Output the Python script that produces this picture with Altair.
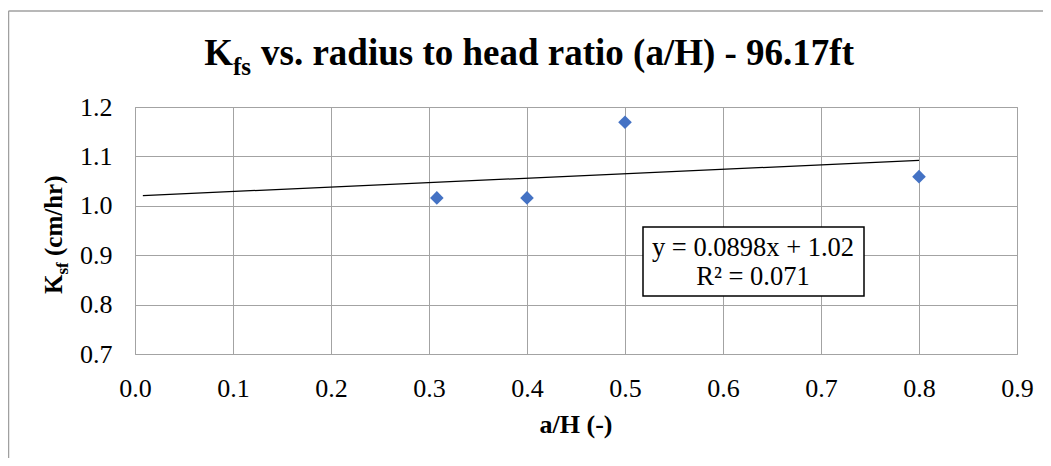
import altair as alt
import pandas as pd

# ---- data ----
a_over_h = [0.308, 0.4, 0.5, 0.8]
k_sf = [1.016, 1.016, 1.169, 1.059]

trend_slope = 0.0898
trend_intercept = 1.02
trend_x = [0.008, 0.8]          # Excel trendline extent (backward forecast 0.3)

x_ticks = [0.0, 0.1, 0.2, 0.3, 0.4, 0.5, 0.6, 0.7, 0.8, 0.9]
y_ticks = [0.7, 0.8, 0.9, 1.0, 1.1, 1.2]

title_k = "K"
title_sub = "fs"
title_rest = "vs. radius to head ratio (a/H) - 96.17ft"
ytitle_k = "K"
ytitle_sub = "sf"
ytitle_rest = "(cm/hr)"
xtitle = "a/H (-)"
eq_line1 = "y = 0.0898x + 1.02"
eq_line2 = "R² = 0.071"

# ---- tables ----
pts = pd.DataFrame({"x": a_over_h, "y": k_sf})
trend = pd.DataFrame({"x": trend_x,
                      "y": [trend_slope * v + trend_intercept for v in trend_x]})
one = pd.DataFrame({"k": [0]})

SERIF = "Liberation Serif"
GRID = "#a3a3a3"
LBL = 26

xscale = alt.Scale(domain=[0.0, 0.9], nice=False, zero=False)
yscale = alt.Scale(domain=[0.7, 1.2], nice=False, zero=False)

xaxis = alt.Axis(values=x_ticks, format=".1f", grid=True, gridColor=GRID, gridWidth=1,
                 ticks=False, domain=False, labelFont=SERIF, labelFontSize=LBL,
                 labelColor="#000000", labelPadding=21, title=None, labelFlush=False)
yaxis = alt.Axis(values=y_ticks, format=".1f", grid=True, gridColor=GRID, gridWidth=1,
                 ticks=False, domain=False, labelFont=SERIF, labelFontSize=LBL,
                 labelColor="#000000", labelPadding=23, title=None, labelFlush=False)

points = alt.Chart(pts).mark_point(shape="diamond", filled=True, color="#4472C4",
                                   size=185, opacity=1).encode(
    x=alt.X("x:Q", scale=xscale, axis=xaxis),
    y=alt.Y("y:Q", scale=yscale, axis=yaxis),
)

trend_line = alt.Chart(trend).mark_line(color="#000000", strokeWidth=1.3).encode(
    x=alt.X("x:Q", scale=xscale),
    y=alt.Y("y:Q", scale=yscale),
)

base = alt.Chart(one)

# outer chart border (left and top visible)
border_left = base.mark_rule(color="#a0a0a0", strokeWidth=1.5).encode(
    x=alt.value(-126.5), y=alt.value(-96), y2=alt.value(351))
border_top = base.mark_rule(color="#a0a0a0", strokeWidth=1.5).encode(
    x=alt.value(-126.5), x2=alt.value(908), y=alt.value(-96))

# title with subscript
t_k = base.mark_text(text=title_k, font=SERIF, fontSize=37, fontWeight="bold",
                     align="right", baseline="alphabetic", color="#000000").encode(
    x=alt.value(98), y=alt.value(-42))
t_sub = base.mark_text(text=title_sub, font=SERIF, fontSize=25, fontWeight="bold",
                       align="left", baseline="alphabetic", color="#000000").encode(
    x=alt.value(98), y=alt.value(-32))
t_rest = base.mark_text(text=title_rest, font=SERIF, fontSize=37, fontWeight="bold",
                        align="left", baseline="alphabetic", color="#000000").encode(
    x=alt.value(126), y=alt.value(-42))

# y axis title (rotated) with subscript
y_k = base.mark_text(text=ytitle_k, font=SERIF, fontSize=25, fontWeight="bold",
                     align="left", baseline="alphabetic", angle=270, color="#000000").encode(
    x=alt.value(-73), y=alt.value(187))
y_sub = base.mark_text(text=ytitle_sub, font=SERIF, fontSize=17, fontWeight="bold",
                       align="left", baseline="alphabetic", angle=270, color="#000000").encode(
    x=alt.value(-67), y=alt.value(167.5))
y_rest = base.mark_text(text=ytitle_rest, font=SERIF, fontSize=25, fontWeight="bold",
                        align="left", baseline="alphabetic", angle=270, color="#000000").encode(
    x=alt.value(-73), y=alt.value(149))

# x axis title
x_t = base.mark_text(text=xtitle, font=SERIF, fontSize=26, fontWeight="bold",
                     align="center", baseline="alphabetic", color="#000000").encode(
    x=alt.value(441), y=alt.value(326))

# equation box
eq_box = base.mark_rect(fill="#ffffff", stroke="#000000", strokeWidth=1.5).encode(
    x=alt.value(508), x2=alt.value(729), y=alt.value(120), y2=alt.value(189))
eq1 = base.mark_text(text=eq_line1, font=SERIF, fontSize=26.5, align="center",
                     baseline="middle", color="#000000").encode(
    x=alt.value(618), y=alt.value(141))
eq2 = base.mark_text(text=eq_line2, font=SERIF, fontSize=26.5, align="center",
                     baseline="middle", color="#000000").encode(
    x=alt.value(618), y=alt.value(170))

chart = alt.layer(
    trend_line, points, border_left, border_top, t_k, t_sub, t_rest,
    y_k, y_sub, y_rest, x_t, eq_box, eq1, eq2
).properties(
    width=882, height=247,
    autosize=alt.AutoSizeParams(type="none"),
    padding={"left": 127, "top": 99, "right": 26, "bottom": 104},
    background="#ffffff",
).configure_view(stroke=GRID, strokeWidth=1)

chart.save("out.html", embed_options={"renderer": "svg", "actions": False})
